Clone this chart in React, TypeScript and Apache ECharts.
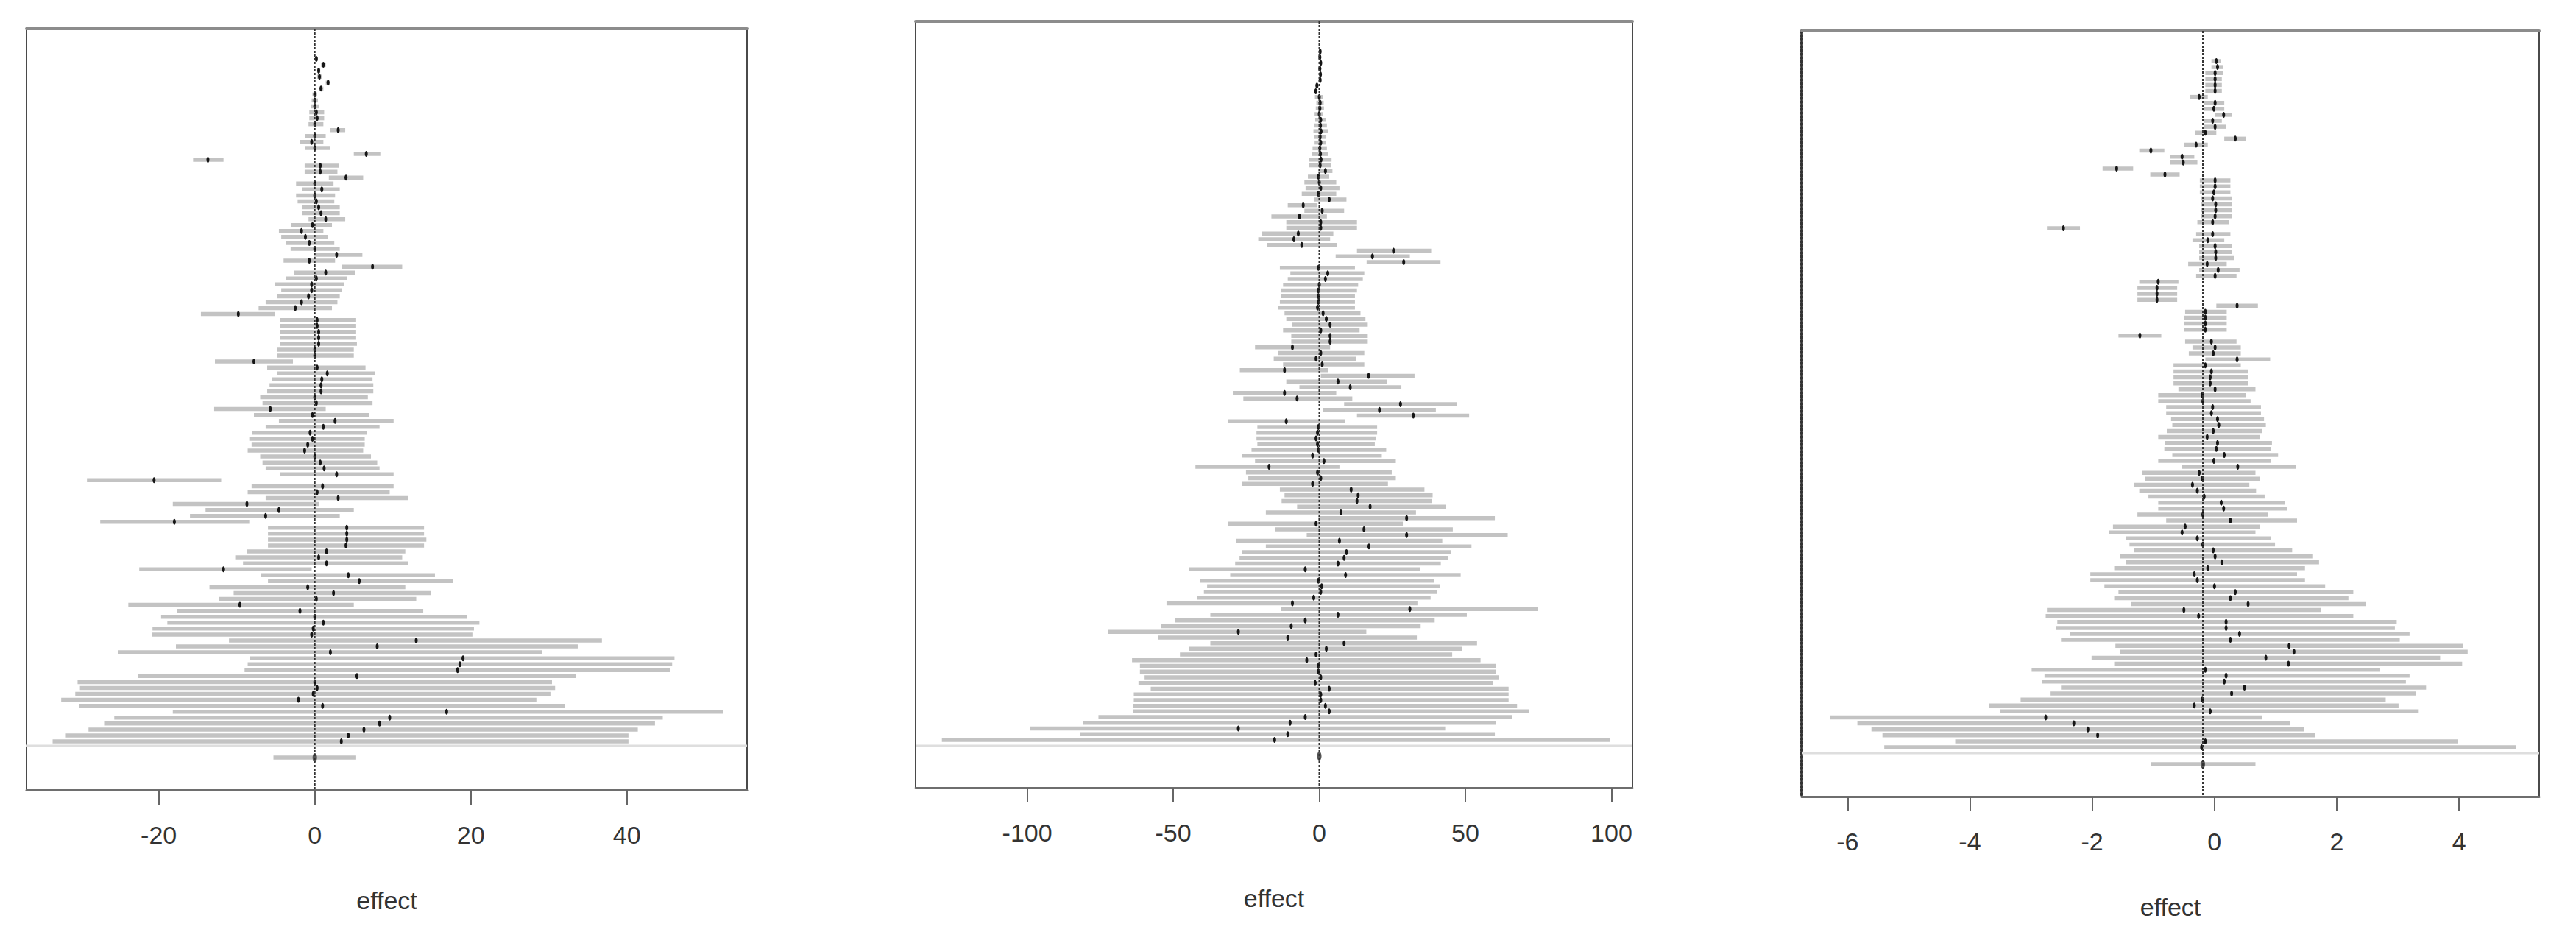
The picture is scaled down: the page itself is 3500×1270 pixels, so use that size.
import React, { useEffect, useRef } from "react";
import * as echarts from "echarts";

// ---------- Panel 1 data (effect, 116 studies) ----------
const p1Lo = [
  0.0, 0.8, 0.3, 0.3, 1.4, 0.5, -0.3, -0.4, -0.5, -0.7,
  -0.7, -0.8, 2.0, -1.2, -1.9, -1.2, 5.0, -15.6, -1.3, -1.3,
  1.8, -2.4, -1.6, -2.4, -2.2, -1.6, -1.6, -0.8, -3.0, -4.6,
  -4.3, -3.7, -3.1, -0.1, -4.0, 3.5, -2.7, -3.7, -5.1, -4.3,
  -4.8, -6.3, -7.2, -14.6, -4.5, -4.5, -4.5, -4.5, -4.5, -4.8,
  -4.8, -12.8, -6.1, -4.8, -5.5, -5.8, -6.1, -7.0, -6.7, -12.9,
  -7.8, -4.6, -6.3, -8.0, -8.4, -8.1, -8.6, -7.0, -6.7, -6.3,
  -4.5, -29.2, -8.1, -8.6, -6.3, -18.2, -14.0, -16.0, -27.5, -6.0,
  -6.0, -6.0, -6.0, -8.7, -10.2, -9.2, -22.5, -6.9, -6.0, -13.5,
  -10.4, -12.3, -23.9, -17.7, -19.7, -18.9, -20.8, -20.9, -11.0, -17.8,
  -25.2, -8.3, -8.6, -9.0, -22.7, -30.4, -30.1, -30.7, -32.5, -30.2,
  -18.2, -25.7, -27.0, -29.0, -32.0, -33.6,
];
const p1Est = [
  0.2, 1.1, 0.5, 0.6, 1.7, 0.8, 0.0, 0.0, 0.0, 0.2,
  0.3, 0.0, 3.0, 0.0, -0.4, 0.0, 6.6, -13.7, 0.7, 0.7,
  4.0, 0.0, 0.9, 0.0, 0.2, 0.5, 0.8, 1.4, -0.3, -1.7,
  -1.2, -0.7, 0.0, 2.8, -0.7, 7.4, 1.4, 0.2, -0.4, -0.4,
  -0.8, -1.7, -2.5, -9.8, 0.3, 0.3, 0.5, 0.5, 0.5, 0.0,
  0.0, -7.8, 0.3, 1.6, 0.9, 0.8, 0.8, 0.0, 0.2, -5.7,
  -0.3, 2.6, 1.1, -0.6, -0.3, -0.9, -1.3, 0.0, 0.7, 1.2,
  2.8, -20.6, 1.0, 0.3, 3.0, -8.7, -4.6, -6.3, -18.0, 4.1,
  4.1, 4.1, 4.0, 1.5, 0.5, 1.5, -11.7, 4.3, 5.7, -0.9,
  2.4, 0.2, -9.6, -1.9, 0.0, 1.1, -0.2, -0.4, 13.0, 8.0,
  2.0, 19.0, 18.6, 18.3, 5.4, 0.0, 0.3, -0.2, -2.1, 1.0,
  16.9, 9.6, 8.3, 6.3, 4.3, 3.4,
];
const p1Hi = [
  0.4, 1.4, 0.7, 0.9, 2.0, 1.1, 0.3, 0.4, 0.5, 1.2,
  1.2, 1.1, 3.9, 1.4, 1.1, 2.0, 8.4, -11.7, 3.1, 2.9,
  6.2, 2.4, 3.2, 2.6, 2.5, 3.2, 3.2, 3.9, 2.2, 1.1,
  1.7, 2.5, 3.2, 6.1, 2.6, 11.2, 5.2, 4.1, 3.8, 3.5,
  3.2, 2.9, 2.2, -5.1, 5.3, 5.3, 5.3, 5.3, 5.4, 5.0,
  5.0, -2.8, 6.5, 7.7, 7.4, 7.5, 7.5, 6.8, 7.4, 1.4,
  7.0, 10.1, 8.3, 6.7, 6.4, 6.4, 6.2, 7.2, 8.0, 8.3,
  10.1, -12.0, 10.1, 9.6, 12.0, 0.5, 5.0, 3.2, -8.4, 14.0,
  14.0, 14.3, 14.0, 11.6, 11.2, 12.0, -0.4, 15.4, 17.7, 11.6,
  14.9, 13.0, 5.0, 13.9, 19.5, 21.1, 20.4, 20.2, 36.8, 33.7,
  29.1, 46.1, 45.8, 45.5, 33.5, 30.4, 30.8, 30.2, 28.4, 32.1,
  52.3, 44.6, 43.6, 41.4, 40.2, 40.2,
];
const p1Summary = [-5.3, 0.0, 5.3];
const p1Ticks = [-20, 0, 20, 40];
const p1Ref = 0;

// ---------- Panel 2 data (effect, 122 studies) ----------
const p2Lo = [
  0.0, -0.1, 0.2, -0.1, 0.1, 0.0, -1.3, -1.7, -1.5, -1.0,
  -1.2, -1.6, -1.4, -1.9, -2.0, -1.8, -1.6, -2.3, -2.5, -3.4,
  -3.5, -0.3, -3.9, -5.1, -4.7, -6.0, -1.9, -10.8, -5.1, -16.4,
  -11.3, -11.3, -19.6, -20.9, -18.0, 12.9, 5.6, 16.2, -13.5, -9.9,
  -10.8, -12.4, -13.2, -13.2, -13.5, -14.0, -11.9, -11.3, -9.2, -12.4,
  -9.6, -9.6, -22.0, -14.0, -15.6, -12.4, -27.2, 0.5, -11.3, -6.8,
  -29.6, -26.0, 8.5, 1.3, 12.9, -31.2, -21.2, -21.5, -21.5, -21.2,
  -23.2, -26.4, -22.0, -42.4, -25.1, -24.3, -26.4, -13.5, -11.9, -12.9,
  -7.6, -18.3, -0.3, -31.2, -15.1, -4.3, -28.5, -18.3, -26.4, -27.3,
  -28.8, -44.5, -30.5, -40.8, -38.4, -39.5, -41.8, -52.3, -13.2, -37.3,
  -49.4, -54.2, -72.3, -55.3, -37.3, -44.5, -47.7, -64.1, -61.4, -61.4,
  -59.8, -61.9, -57.7, -63.5, -63.5, -63.8, -63.8, -75.6, -80.8, -98.9,
  -81.8, -129.2,
];
const p2Est = [
  0.3, 0.2, 0.5, 0.2, 0.4, 0.3, -0.8, -1.2, 0.0, 0.3,
  0.2, 0.0, 0.5, 0.4, 0.6, 0.3, 0.5, 0.2, 0.4, 0.6,
  0.3, 2.1, -0.3, 0.0, 0.5, -0.3, 3.4, -5.5, 1.0, -6.8,
  0.5, 0.5, -7.2, -8.7, -6.0, 25.4, 18.2, 28.9, -0.3, 2.9,
  2.1, 0.0, -0.3, -0.3, -0.3, -0.6, 1.3, 2.4, 3.7, 0.5,
  3.7, 3.7, -9.2, 0.5, -1.1, 1.0, -11.9, 16.9, 6.4, 10.6,
  -11.9, -7.6, 27.8, 20.6, 32.2, -11.3, -0.3, -0.6, -1.1, -0.6,
  -0.3, -2.3, 1.6, -17.2, -0.6, 0.5, -2.3, 10.9, 13.3, 12.9,
  17.4, 7.4, 29.9, -1.1, 15.3, 29.9, 6.9, 17.0, 9.3, 8.5,
  6.4, -4.8, 9.0, -0.3, 0.8, 0.5, -1.9, -9.2, 31.0, 6.4,
  -4.8, -9.6, -27.7, -10.8, 8.5, 2.4, -1.1, -4.3, -0.3, -0.3,
  0.5, -1.4, 3.4, 0.5, 0.5, 2.1, 3.4, -4.8, -10.0, -27.7,
  -10.8, -15.3,
];
const p2Hi = [
  0.6, 0.5, 0.8, 0.5, 0.7, 0.6, -0.3, -0.6, 1.2, 1.5,
  1.6, 1.3, 2.2, 2.6, 2.9, 2.4, 2.3, 2.6, 2.9, 4.2,
  3.9, 4.5, 3.4, 5.8, 6.9, 5.8, 9.3, -0.6, 8.5, 2.6,
  12.9, 12.9, 4.8, 3.7, 6.1, 38.3, 31.0, 41.5, 12.2, 15.4,
  14.9, 13.3, 12.9, 12.2, 12.2, 12.2, 14.1, 15.8, 16.6, 13.8,
  16.6, 16.6, 3.7, 15.4, 12.7, 15.4, 2.9, 32.6, 23.3, 28.1,
  5.8, 11.3, 47.1, 39.9, 51.3, 8.8, 19.8, 19.8, 19.5, 19.0,
  22.9, 21.4, 26.2, 6.9, 24.8, 26.2, 23.5, 36.0, 38.8, 38.6,
  43.4, 33.1, 60.1, 28.6, 45.7, 64.5, 42.1, 52.1, 45.0, 44.2,
  41.6, 34.4, 48.4, 39.2, 41.3, 40.3, 38.1, 33.6, 74.9, 50.5,
  39.5, 34.7, 16.1, 33.4, 54.0, 49.0, 45.5, 55.2, 60.5, 60.5,
  61.6, 59.5, 64.8, 64.8, 64.8, 67.7, 71.8, 65.9, 60.5, 43.1,
  60.1, 99.5,
];
const p2Summary = [-0.6, 0.0, 0.6];
const p2Ticks = [-100, -50, 0, 50, 100];
const p2Ref = 0;

// ---------- Panel 3 data (effect, 116 studies) ----------
const p3Lo = [
  -0.05, -0.05, -0.15, -0.15, -0.15, -0.15, -0.40, -0.17, -0.17, 0.01,
  -0.17, -0.17, -0.32, 0.16, -0.50, -1.23, -0.73, -0.73, -1.83, -1.05,
  -0.24, -0.24, -0.24, -0.22, -0.22, -0.22, -0.22, -0.28, -2.74, -0.30,
  -0.36, -0.25, -0.25, -0.25, -0.43, -0.25, -0.30, -1.23, -1.26, -1.26,
  -1.26, 0.03, -0.48, -0.50, -0.50, -0.50, -1.57, -0.48, -0.36, -0.42,
  -0.15, -0.67, -0.67, -0.67, -0.67, -0.59, -0.92, -0.92, -0.79, -0.79,
  -0.71, -0.69, -0.78, -0.92, -0.81, -0.82, -0.69, -0.92, -0.53, -1.18,
  -1.13, -1.31, -1.23, -1.08, -0.92, -0.92, -1.26, -0.79, -1.66, -1.72,
  -1.45, -1.39, -1.31, -1.54, -1.45, -1.64, -2.03, -2.03, -1.80, -1.57,
  -1.64, -1.36, -2.74, -2.76, -2.57, -2.59, -2.36, -2.51, -1.62, -1.54,
  -2.01, -1.64, -2.99, -2.78, -2.82, -2.51, -2.68, -3.17, -3.69, -3.50,
  -6.29, -5.84, -5.61, -5.43, -4.24, -5.40,
];
const p3Est = [
  0.03, 0.05, 0.01, 0.01, 0.01, 0.01, -0.25, 0.01, -0.01, 0.15,
  -0.03, 0.01, -0.15, 0.34, -0.30, -1.04, -0.53, -0.51, -1.60, -0.81,
  0.01, 0.01, -0.01, -0.03, 0.02, 0.02, 0.01, -0.03, -2.47, -0.03,
  -0.11, 0.01, 0.02, 0.02, -0.12, 0.06, 0.01, -0.92, -0.94, -0.94,
  -0.94, 0.37, -0.15, -0.15, -0.15, -0.15, -1.22, -0.05, 0.01, -0.02,
  0.37, -0.15, -0.05, -0.07, -0.07, 0.01, -0.20, -0.19, -0.03, -0.05,
  0.05, 0.07, -0.02, -0.12, 0.05, 0.03, 0.16, -0.01, 0.38, -0.25,
  -0.20, -0.36, -0.28, -0.17, 0.11, 0.15, -0.19, 0.26, -0.48, -0.53,
  -0.28, -0.19, -0.02, 0.01, 0.12, -0.11, -0.33, -0.28, 0.00, 0.34,
  0.26, 0.55, -0.50, -0.26, 0.19, 0.19, 0.41, 0.26, 1.22, 1.30,
  0.84, 1.21, -0.15, 0.19, 0.16, 0.49, 0.28, -0.20, -0.33, -0.07,
  -2.76, -2.30, -2.07, -1.91, -0.15, -0.21,
];
const p3Hi = [
  0.11, 0.14, 0.14, 0.12, 0.12, 0.12, -0.11, 0.16, 0.16, 0.28,
  0.12, 0.19, 0.03, 0.51, -0.11, -0.82, -0.33, -0.28, -1.33, -0.57,
  0.26, 0.26, 0.26, 0.28, 0.28, 0.28, 0.28, 0.24, -2.20, 0.26,
  0.16, 0.28, 0.29, 0.32, 0.20, 0.41, 0.36, -0.59, -0.61, -0.61,
  -0.61, 0.71, 0.20, 0.20, 0.20, 0.20, -0.87, 0.36, 0.43, 0.43,
  0.91, 0.43, 0.55, 0.55, 0.55, 0.67, 0.51, 0.59, 0.76, 0.76,
  0.81, 0.84, 0.78, 0.74, 0.94, 0.92, 1.04, 0.92, 1.33, 0.67,
  0.74, 0.57, 0.68, 0.82, 1.15, 1.19, 0.88, 1.35, 0.74, 0.67,
  0.92, 0.99, 1.27, 1.60, 1.71, 1.48, 1.35, 1.48, 1.81, 2.27,
  2.19, 2.47, 1.74, 2.27, 2.98, 2.95, 3.19, 3.03, 4.06, 4.14,
  3.69, 4.05, 2.71, 3.19, 3.13, 3.46, 3.29, 2.80, 3.01, 3.34,
  0.78, 1.23, 1.46, 1.64, 3.98, 4.93,
];
const p3Summary = [-1.04, -0.19, 0.67];
const p3Ticks = [-6, -4, -2, 0, 2, 4];
const p3Ref = -0.19;

const axisName = "effect";

// ---------- layout (pixels) ----------
const FONT = "'Liberation Sans', Arial, Helvetica, sans-serif";
const panels = [
  {
    lo: p1Lo, est: p1Est, hi: p1Hi, sum: p1Summary, ticks: p1Ticks, ref: p1Ref,
    xMin: -36.95, xMax: 55.4,
    left: 36, right: 1015, top: 39, bottom: 1073,
    firstRowY: 80, lastRowY: 1007, sepY: 1013, sumY: 1029, dashedLeft: false,
  },
  {
    lo: p2Lo, est: p2Est, hi: p2Hi, sum: p2Summary, ticks: p2Ticks, ref: p2Ref,
    xMin: -138.2, xMax: 107.2,
    left: 1244, right: 2218, top: 29, bottom: 1070,
    firstRowY: 70, lastRowY: 1005, sepY: 1013, sumY: 1027, dashedLeft: false,
  },
  {
    lo: p3Lo, est: p3Est, hi: p3Hi, sum: p3Summary, ticks: p3Ticks, ref: p3Ref,
    xMin: -6.75, xMax: 5.31,
    left: 2448, right: 3450, top: 42, bottom: 1082,
    firstRowY: 83, lastRowY: 1015, sepY: 1023, sumY: 1038, dashedLeft: true,
  },
];

function buildOption() {
  const grid: any[] = [];
  const xAxis: any[] = [];
  const yAxis: any[] = [];
  const series: any[] = [];

  panels.forEach((p, i) => {
    const n = p.est.length;
    const s = (p.lastRowY - p.firstRowY) / (n - 1);
    const yMin = 1 - (p.firstRowY - p.top) / s;
    const yMax = n + (p.bottom - p.lastRowY) / s;
    const sepRow = n + (p.sepY - p.lastRowY) / s;
    const sumRow = n + (p.sumY - p.lastRowY) / s;

    grid.push({
      left: p.left,
      top: p.top,
      width: p.right - p.left,
      height: p.bottom - p.top,
      show: true,
      borderColor: "#4a4a4a",
      borderWidth: 2,
      backgroundColor: "#ffffff",
      containLabel: false,
    });

    xAxis.push({
      type: "value",
      gridIndex: i,
      min: p.xMin,
      max: p.xMax,
      position: "bottom",
      axisLine: { show: true, onZero: false, lineStyle: { color: "#6e6e6e", width: 3 } },
      axisTick: { show: true, length: 20, customValues: p.ticks, lineStyle: { color: "#666666", width: 2 } },
      axisLabel: { show: true, customValues: p.ticks, fontSize: 34, color: "#333333", margin: 44, fontFamily: FONT },
      splitLine: { show: false },
      name: axisName,
      nameLocation: "middle",
      nameGap: 133,
      nameTextStyle: { fontSize: 34, color: "#333333", fontFamily: FONT },
    });
    xAxis.push({
      type: "value",
      gridIndex: i,
      min: p.xMin,
      max: p.xMax,
      position: "top",
      axisLine: { show: true, onZero: false, lineStyle: { color: "#8c8c8c", width: 4 } },
      axisTick: { show: false },
      axisLabel: { show: false },
      splitLine: { show: false },
    });

    yAxis.push({
      type: "value",
      gridIndex: i,
      inverse: true,
      min: yMin,
      max: yMax,
      axisLine: {
        show: p.dashedLeft,
        onZero: false,
        lineStyle: { color: "#333333", width: 4, type: [3, 2] },
      },
      axisTick: { show: false },
      axisLabel: { show: false },
      splitLine: { show: false },
    });

    // separator line above summary
    series.push({
      type: "line",
      xAxisIndex: 2 * i,
      yAxisIndex: i,
      data: [[p.xMin, sepRow], [p.xMax, sepRow]],
      symbol: "none",
      silent: true,
      lineStyle: { color: "#dedede", width: 3 },
      z: 1,
    });

    const rows: any[] = p.est.map((e, r) => [p.lo[r], e, p.hi[r], r + 1, 0]);
    rows.push([p.sum[0], p.sum[1], p.sum[2], sumRow, 1]);

    series.push({
      type: "custom",
      xAxisIndex: 2 * i,
      yAxisIndex: i,
      data: rows,
      encode: { x: [0, 2], y: 3 },
      silent: true,
      z: 2,
      renderItem: (params: any, api: any) => {
        const lo = api.value(0);
        const est = api.value(1);
        const hi = api.value(2);
        const row = api.value(3);
        const isSum = api.value(4) === 1;
        const a = api.coord([lo, row]);
        const b = api.coord([hi, row]);
        const c = api.coord([est, row]);
        const h = 5.5;
        return {
          type: "group",
          children: [
            {
              type: "rect",
              shape: { x: a[0], y: a[1] - h / 2, width: Math.max(b[0] - a[0], 1.5), height: h },
              style: { fill: "#c3c3c3" },
            },
            {
              type: "ellipse",
              shape: { cx: c[0], cy: c[1], rx: isSum ? 3 : 2, ry: isSum ? 6 : 4 },
              style: { fill: isSum ? "#555555" : "#151515" },
            },
          ],
        };
      },
    });

    // reference line
    series.push({
      type: "line",
      xAxisIndex: 2 * i,
      yAxisIndex: i,
      data: [[p.ref, yMin], [p.ref, yMax]],
      symbol: "none",
      silent: true,
      lineStyle: { color: "#333333", width: 2, type: [3, 2] },
      z: 3,
    });
  });

  return {
    animation: false,
    backgroundColor: "#ffffff",
    textStyle: { fontFamily: FONT },
    grid,
    xAxis,
    yAxis,
    series,
  };
}

export default function App() {
  const ref = useRef<HTMLDivElement>(null);
  useEffect(() => {
    document.body.style.margin = "0";
    if (!ref.current) return;
    const chart = echarts.init(ref.current, undefined, { renderer: "svg" });
    chart.setOption(buildOption() as any);
    return () => chart.dispose();
  }, []);
  return <div ref={ref} style={{ width: 3500, height: 1270, background: "#fff" }} />;
}
